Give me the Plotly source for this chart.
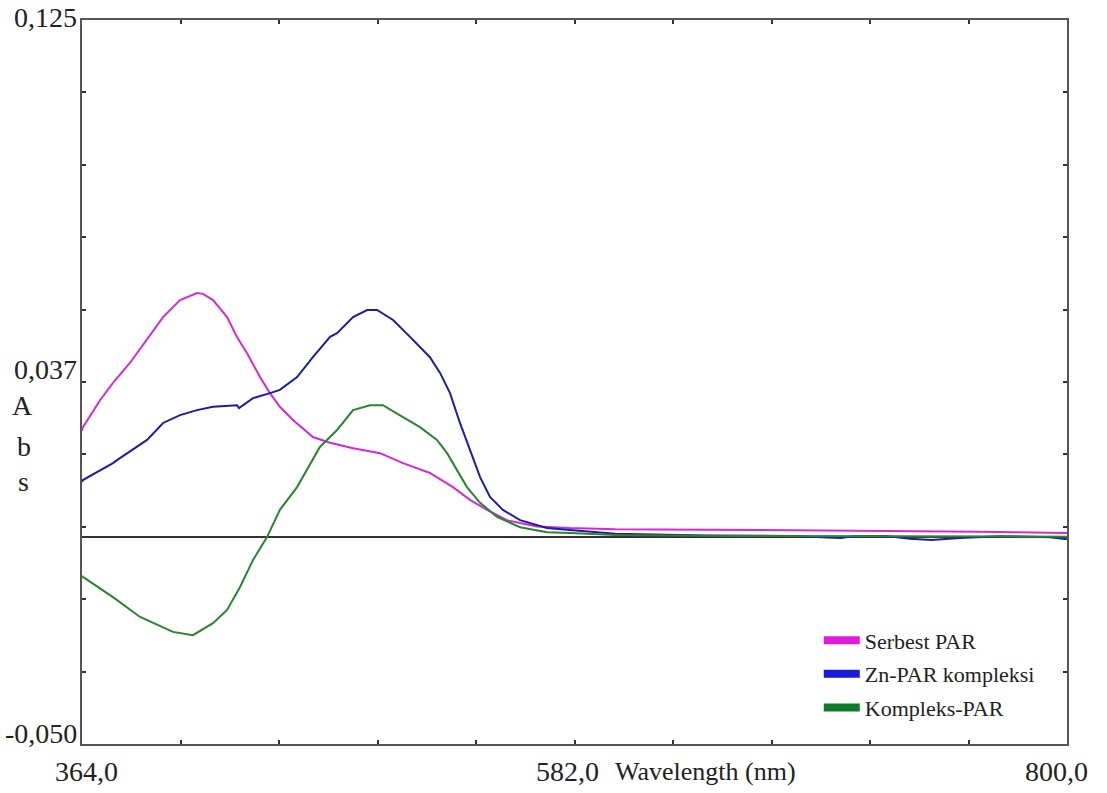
import plotly.graph_objects as go

# ---- data ----
serbest_x = [364.0, 364.4, 372.0, 377.7, 385.2, 392.8, 399.9, 407.4, 414.9, 417.6, 422.0, 428.2,
             432.6, 437.0, 442.8, 447.2, 451.6, 457.4, 466.2, 473.8, 484.0, 495.9, 506.1, 518.0,
             528.2, 535.7, 543.3, 552.1, 565.4, 580.0, 600.0, 640.0, 680.0, 720.0, 760.0, 800.0]
serbest_y = [0.0257, 0.0266, 0.0331, 0.0373, 0.0421, 0.0477, 0.0532, 0.0573, 0.0590, 0.0588, 0.0573, 0.0532,
             0.0484, 0.0445, 0.0387, 0.0348, 0.0315, 0.0283, 0.0242, 0.0228, 0.0215, 0.0203, 0.0179, 0.0155,
             0.0121, 0.0090, 0.0066, 0.0041, 0.0026, 0.0022, 0.0019, 0.0018, 0.0017, 0.0015, 0.0013, 0.0010]

zn_x = [364.0, 364.4, 377.7, 379.5, 392.8, 399.9, 407.4, 414.9, 422.0, 432.6, 433.5, 439.7, 447.2,
        451.6, 459.2, 466.2, 473.8, 476.9, 484.0, 490.2, 494.6, 501.7, 509.2, 518.0, 522.5, 526.9,
        531.3, 535.7, 540.2, 544.6, 550.3, 557.9, 569.8, 580.0, 600.0, 640.0, 680.0, 693.8, 700.0,
        705.3, 720.0, 730.5, 740.0, 752.6, 770.3, 792.5, 800.0]
zn_y = [0.0133, 0.0138, 0.0179, 0.0186, 0.0235, 0.0276, 0.0295, 0.0307, 0.0315, 0.0319, 0.0312, 0.0336, 0.0348,
        0.0356, 0.0387, 0.0435, 0.0484, 0.0493, 0.0532, 0.0549, 0.0549, 0.0525, 0.0484, 0.0435, 0.0397, 0.0348,
        0.0276, 0.0211, 0.0145, 0.0097, 0.0066, 0.0041, 0.0022, 0.0017, 0.0008, 0.0004, 0.0003, -0.0001, -0.0002,
        0.0002, 0.0003, -0.0004, -0.0007, -0.0002, 0.0002, 0.0000, -0.0005]

kompleks_x = [364.0, 364.4, 377.7, 389.7, 404.3, 413.1, 422.0, 428.2, 433.9, 439.7, 445.9, 451.6, 459.2,
              466.2, 469.3, 476.9, 484.0, 491.5, 497.2, 506.1, 513.6, 521.1, 525.6, 530.0, 534.4, 540.2,
              547.7, 557.9, 569.8, 580.0, 600.0, 650.0, 700.0, 750.0, 800.0]
kompleks_y = [-0.0094, -0.0096, -0.0145, -0.0193, -0.0229, -0.0237, -0.0208, -0.0176, -0.0121, -0.0055, 0.0000,
              0.0066, 0.0121, 0.0186, 0.0218, 0.0259, 0.0307, 0.0319, 0.0319, 0.0290, 0.0266, 0.0235, 0.0203,
              0.0162, 0.0121, 0.0083, 0.0049, 0.0024, 0.0012, 0.0010, 0.0005, 0.0003, 0.0002, 0.0002, 0.0001]

series_names = ["Serbest PAR", "Zn-PAR kompleksi", "Kompleks-PAR"]
line_colors = ["#D42AD4", "#1C1CA8", "#2A8430"]
swatch_colors = ["#E01CDC", "#1A1ADC", "#0E7A2E"]

x_range = [364.0, 800.0]
y_range = [-0.050, 0.125]
x_ticks = [364.0 + 43.6 * k for k in range(11)]
y_ticks = [-0.050 + 0.0175 * k for k in range(11)]
x_labels = [(364.0, "364,0", 4), (582.0, "582,0", -7), (800.0, "800,0", -11)]
y_labels = [(0.125, "0,125", 3), (0.0375, "0,037", 13), (-0.050, "-0,050", 11)]

FONT = "Liberation Serif, Times New Roman, serif"
TXT = "#222222"

fig = go.Figure()
data = [(serbest_x, serbest_y), (zn_x, zn_y), (kompleks_x, kompleks_y)]
for (xs, ys), name, col in zip(data, series_names, line_colors):
    fig.add_trace(go.Scatter(x=xs, y=ys, mode="lines", name=name, showlegend=False,
                             line=dict(color=col, width=2)))
# legend entries (thick swatches)
for i, (name, col) in enumerate(zip(series_names, swatch_colors)):
    fig.add_trace(go.Scatter(x=[None], y=[None], mode="lines", name=name, legendgroup=f"g{i}",
                             line=dict(color=col, width=8)))

axis_common = dict(showline=True, mirror="ticks", linecolor="#555555", linewidth=2,
                   ticks="inside", ticklen=4, tickwidth=1.5, tickcolor="#333333",
                   showgrid=False, showticklabels=False)
fig.update_xaxes(range=x_range, tickmode="array", tickvals=x_ticks, zeroline=False, **axis_common)
fig.update_yaxes(range=y_range, tickmode="array", tickvals=y_ticks,
                 zeroline=True, zerolinecolor="#333333", zerolinewidth=1.5, **axis_common)

ann = []
for v, t, sh in x_labels:
    ann.append(dict(x=v, y=0, xref="x", yref="paper", text=t, showarrow=False,
                    xanchor="center", yanchor="middle", xshift=sh, yshift=-27,
                    font=dict(family=FONT, size=28, color=TXT)))
for v, t, sh in y_labels:
    ann.append(dict(x=0, y=v, xref="paper", yref="y", text=t, showarrow=False,
                    xanchor="right", yanchor="middle", xshift=-3, yshift=sh,
                    font=dict(family=FONT, size=28, color=TXT)))
ann.append(dict(x=0.6335, y=0, xref="paper", yref="paper", text="Wavelength (nm)", showarrow=False,
                xanchor="center", yanchor="middle", yshift=-27,
                font=dict(family=FONT, size=26, color=TXT)))
for letter, ypx, xpx in [("A", 405, 22), ("b", 446, 24), ("s", 481, 23)]:
    ann.append(dict(x=(xpx - 82) / 985, y=(744 - ypx) / 724, xref="paper", yref="paper", text=letter,
                    showarrow=False, xanchor="center", yanchor="middle",
                    font=dict(family=FONT, size=28, color=TXT)))

fig.update_layout(
    width=1107, height=793,
    margin=dict(l=82, r=40, t=20, b=49),
    paper_bgcolor="white", plot_bgcolor="white",
    annotations=ann,
    legend=dict(x=0.748, y=0.172, xanchor="left", yanchor="top", bgcolor="rgba(0,0,0,0)",
                font=dict(family=FONT, size=22, color=TXT), tracegroupgap=2, itemwidth=36),
)

fig.write_html("out.html")
